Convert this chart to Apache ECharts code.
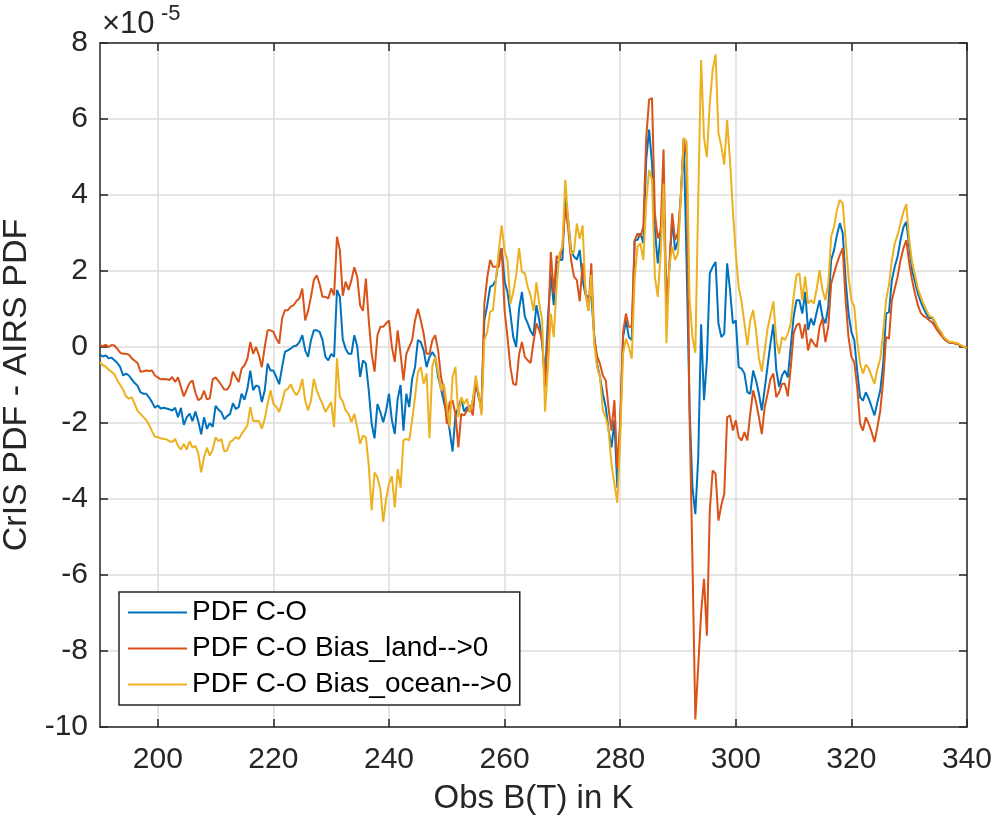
<!DOCTYPE html>
<html>
<head>
<meta charset="utf-8">
<script src="https://cdn.jsdelivr.net/npm/echarts@6/dist/echarts.min.js"></script>
<style>
html,body{margin:0;padding:0;background:#fff;}
#chart{width:995px;height:820px;}
</style>
</head>
<body>
<div id="chart"></div>
<script>
// Brightness temperature grid (K): 190 .. 340, step 0.5
const X_START = 190;
const X_STEP = 0.5;

// values in units of 1e-5
const pdfCO = [
-0.2,-0.25,-0.22,-0.3,-0.28,-0.35,-0.42,-0.53,-0.75,-0.7,
-0.75,-0.85,-0.95,-1.02,-1.19,-1.23,-1.23,-1.33,-1.45,-1.6,
-1.54,-1.62,-1.6,-1.62,-1.64,-1.67,-1.6,-1.85,-1.6,-2.05,
-1.85,-1.75,-1.95,-1.7,-1.95,-2.3,-1.85,-2.15,-2.0,-2.1,
-1.55,-1.65,-1.72,-1.9,-1.82,-1.76,-1.48,-1.63,-1.58,-1.23,
-1.39,-1.1,-0.62,-1.14,-1.01,-1.05,-1.45,-1.14,-0.44,-0.62,
-0.62,-0.79,-0.98,-0.53,-0.13,-0.09,-0.04,0.02,0.04,0.13,
0.31,-0.09,-0.26,0.18,0.44,0.44,0.40,0.18,-0.26,-0.35,
-0.18,-0.26,1.5,1.32,0.2,-0.05,-0.18,-0.18,0.31,0.02,
-0.79,-0.35,-0.44,-1.14,-2.02,-2.4,-1.5,-1.71,-1.98,-1.67,
-1.23,-1.93,-2.29,-1.36,-1.0,-2.2,-1.23,-1.58,-0.84,-0.53,
0.18,0.13,-0.09,-0.53,-0.26,-0.13,-0.26,-0.79,-1.1,-1.45,
-1.76,-2.2,-2.75,-1.8,-1.58,-1.36,-1.7,-1.58,-1.71,-1.41,
-0.97,-1.32,-1.58,0.7,1.1,1.58,1.63,1.76,2.4,2.6,
1.72,1.45,0.88,0.26,0.0,1.0,1.45,0.8,0.62,0.42,
0.3,1.1,0.7,0.09,-0.79,0.79,1.9,1.1,2.2,2.3,
2.29,4.0,3.34,2.55,2.38,2.3,2.55,1.76,1.37,1.32,
1.32,0.31,-0.44,-0.79,-1.23,-1.58,-2.2,-2.64,-1.93,-3.7,
-2.0,0.26,0.7,0.26,0.18,2.8,2.82,2.99,2.73,4.93,
5.72,4.84,3.08,2.2,2.99,4.0,0.88,2.11,3.34,2.55,
2.8,4.0,5.45,2.11,-1.6,-3.69,-4.4,-2.9,0.6,-1.4,
-0.35,1.94,2.11,2.24,0.62,0.26,0.35,2.2,1.5,0.62,
0.7,-0.53,-0.57,-0.7,-1.19,-1.23,-0.62,-0.88,-1.23,-1.67,
-1.1,-0.5,0.1,0.6,-0.6,-1.05,-0.75,-0.62,-0.8,0.0,
0.79,1.23,1.23,0.88,1.45,0.45,0.75,0.57,0.92,1.23,
0.79,0.62,1.06,2.29,2.55,2.95,3.26,2.99,1.76,0.88,
0.4,0.18,-0.62,-1.32,-1.41,-1.19,-1.36,-1.58,-1.8,-1.45,
-1.14,-0.44,0.88,0.92,1.76,2.11,2.38,2.82,3.15,3.3,
2.64,2.02,1.72,1.41,1.19,1.01,0.86,0.76,0.77,0.62,
0.46,0.35,0.22,0.16,0.11,0.11,0.09,0.07,0.03,0.0,
-0.02
];

const pdfCOLand = [
0.05,0.02,0.06,0.0,0.05,0.04,-0.05,-0.15,-0.18,-0.18,
-0.2,-0.3,-0.36,-0.42,-0.65,-0.64,-0.62,-0.63,-0.62,-0.75,
-0.8,-0.85,-0.84,-0.85,-0.87,-0.79,-0.92,-0.8,-1.05,-1.3,
-1.12,-0.95,-0.88,-1.2,-1.4,-1.35,-1.15,-1.38,-1.35,-0.85,
-0.8,-0.9,-1.0,-1.12,-1.12,-1.0,-0.65,-0.79,-0.92,-0.57,
-0.48,-0.31,0.13,-0.18,0.0,-0.22,-0.53,0.0,0.44,0.44,
0.40,0.22,0.09,0.75,0.97,0.97,1.06,1.1,1.21,1.28,
1.54,0.7,0.95,1.32,1.76,1.89,1.65,1.32,1.32,1.28,
1.54,1.36,2.9,2.55,1.35,1.72,1.5,1.76,2.1,1.85,
1.1,0.95,1.8,0.7,-0.18,-0.65,0.31,0.53,0.53,0.62,
0.7,0.0,-0.39,0.44,-0.18,-0.88,-0.18,0.0,0.18,0.7,
1.01,0.7,0.35,-0.18,-0.18,0.18,0.31,-0.09,-0.79,-1.14,
-2.02,-1.45,-1.41,-1.76,-2.64,-1.76,-1.8,-1.67,-1.54,-1.8,
-0.9,-1.23,-1.7,1.14,1.83,2.29,2.11,2.11,2.11,2.6,
0.95,0.26,-0.53,-0.97,-1.0,-0.2,0.13,-0.26,-0.35,-0.42,
0.13,0.62,0.44,0.18,-1.05,0.3,2.5,1.4,2.4,2.3,
2.64,3.7,3.1,2.29,1.85,1.76,1.2,2.2,1.5,0.95,
2.2,0.26,-0.24,-0.44,-0.75,-0.88,-1.63,-2.2,-1.4,-3.2,
-2.0,0.4,0.88,0.53,0.53,2.8,2.99,2.9,3.17,5.5,
6.51,6.55,3.52,2.86,3.08,5.2,0.88,2.11,3.52,2.82,
3.0,4.0,5.5,5.0,-1.8,-5.63,-9.8,-8.4,-7.0,-6.1,
-7.6,-4.3,-3.25,-3.34,-4.57,-4.16,-3.87,-1.85,-1.8,-2.2,
-1.93,-2.37,-2.46,-2.24,-2.46,-1.76,-1.14,-1.45,-1.85,-2.29,
-1.58,-1.23,-0.84,-0.7,-1.32,-1.19,-0.97,-0.97,-1.3,-0.55,
0.35,0.57,0.62,0.22,0.6,-0.09,0.22,0.09,0.0,0.53,
0.75,0.13,0.53,1.67,1.94,2.2,2.42,2.6,1.23,0.26,
-0.26,-0.4,-1.06,-2.02,-2.2,-1.85,-2.02,-2.24,-2.5,-2.11,
-1.67,-0.88,0.26,0.22,1.23,1.54,1.85,2.29,2.6,2.81,
2.2,1.76,1.41,1.1,0.9,0.81,0.77,0.7,0.64,0.53,
0.41,0.31,0.22,0.16,0.11,0.11,0.09,0.07,0.03,0.0,
-0.02
];

const pdfCOOcean = [
-0.4,-0.48,-0.52,-0.6,-0.65,-0.72,-0.88,-1.0,-1.12,-1.3,
-1.36,-1.32,-1.5,-1.68,-1.76,-1.84,-1.92,-2.05,-2.22,-2.36,
-2.37,-2.4,-2.42,-2.43,-2.48,-2.5,-2.42,-2.6,-2.7,-2.55,
-2.7,-2.48,-2.65,-2.6,-2.8,-3.3,-2.9,-2.65,-2.86,-2.7,
-2.38,-2.48,-2.42,-2.75,-2.72,-2.5,-2.45,-2.37,-2.42,-2.29,
-2.18,-2.07,-1.58,-1.95,-1.95,-1.95,-2.15,-1.89,-1.5,-1.14,
-1.5,-1.57,-1.71,-1.45,-1.14,-1.1,-0.98,-1.16,-1.27,-1.14,
-0.84,-1.41,-1.67,-1.41,-0.84,-1.14,-1.34,-1.5,-1.71,-1.58,
-1.45,-2.11,-0.3,-1.32,-1.43,-1.67,-1.76,-1.98,-1.76,-2.11,
-2.55,-2.33,-2.38,-3.12,-4.3,-3.3,-3.43,-3.74,-4.6,-4.0,
-3.6,-3.4,-4.22,-3.21,-3.7,-2.46,-2.42,-2.46,-1.93,-1.32,
-0.66,-0.53,-0.97,-0.7,-2.4,-0.5,-0.26,-0.66,-1.14,-0.97,
-1.54,-2.11,-0.79,-0.53,-1.85,-1.32,-1.5,-1.36,-1.71,-1.41,
-0.75,-1.23,-1.8,0.18,0.4,0.93,0.97,1.76,2.55,3.2,
2.51,2.29,1.14,1.45,1.89,2.6,1.98,1.94,1.58,1.36,
0.95,1.7,1.14,0.7,-1.7,-0.53,0.88,0.26,1.6,2.46,
2.64,4.4,3.34,2.46,2.5,3.25,2.85,3.2,1.41,0.95,
1.9,0.09,-0.53,-0.79,-1.67,-1.85,-2.2,-3.1,-3.6,-4.1,
-2.4,-0.18,0.22,0.0,-0.31,1.8,2.64,2.73,2.29,3.8,
4.66,4.4,1.85,1.32,2.46,4.3,0.1,2.11,2.64,2.29,
2.46,4.0,5.5,5.4,1.3,0.26,-0.15,3.9,7.55,5.5,
5.0,6.42,7.3,7.7,5.63,5.28,4.8,5.98,4.9,3.56,
2.46,1.58,1.19,0.62,0.04,0.7,0.97,0.44,-0.3,-0.65,
-0.09,0.48,0.84,1.2,0.2,-0.18,0.26,0.18,0.35,0.62,
1.32,1.89,1.94,1.23,1.85,1.15,1.23,1.14,1.54,2.02,
1.5,1.23,1.67,2.9,3.17,3.61,3.87,3.78,2.82,1.85,
1.23,1.06,0.18,-0.44,-0.7,-0.46,-0.57,-0.77,-0.97,-0.57,
-0.31,0.4,1.23,1.63,2.29,2.73,2.95,3.26,3.55,3.76,
2.81,2.24,1.89,1.54,1.32,1.13,0.97,0.81,0.79,0.66,
0.5,0.4,0.26,0.19,0.13,0.13,0.11,0.09,0.04,0.0,
-0.02
];

const xTickValues = [200, 220, 240, 260, 280, 300, 320, 340];
const seriesNames = ['PDF C-O', 'PDF C-O Bias_land-->0', 'PDF C-O Bias_ocean-->0'];
const seriesColors = ['#0072BD', '#D95319', '#EDB120'];

function toPairs(arr) {
  return arr.map((v, i) => [X_START + X_STEP * i, v]);
}

const FONT = '"Liberation Sans", Arial, Helvetica, sans-serif';
const AX = '#262626';
const GRID = '#dddddd';

const chart = echarts.init(document.getElementById('chart'));
const axLine = { show: true, onZero: false, lineStyle: { color: AX, width: 1.5 } };
const inTick = { show: true, inside: true, length: 8, lineStyle: { color: AX, width: 1.5 } };

chart.setOption({
  animation: false,
  backgroundColor: '#ffffff',
  grid: { left: 100, right: 28, top: 43, bottom: 93, containLabel: false, outerBoundsMode: 'none' },
  xAxis: [{
    type: 'value', min: 190, max: 340, interval: 20,
    axisLine: axLine,
    axisTick: Object.assign({ customValues: xTickValues }, inTick),
    axisLabel: { show: true, customValues: xTickValues, color: AX, fontSize: 30, fontFamily: FONT, margin: 18 },
    splitLine: { show: true, lineStyle: { color: GRID, width: 1.5 } },
    name: 'Obs B(T) in K', nameLocation: 'middle', nameGap: 55,
    nameTextStyle: { color: AX, fontSize: 33, fontFamily: FONT }
  }, {
    type: 'value', min: 190, max: 340, interval: 20, position: 'top',
    axisLine: axLine,
    axisTick: Object.assign({ customValues: xTickValues }, inTick),
    axisLabel: { show: false },
    splitLine: { show: false }
  }],
  yAxis: [{
    type: 'value', min: -10, max: 8, interval: 2,
    axisLine: axLine,
    axisTick: inTick,
    axisLabel: { color: AX, fontSize: 30, fontFamily: FONT, margin: 12 },
    splitLine: { show: true, lineStyle: { color: GRID, width: 1.5 } },
    name: 'CrIS PDF - AIRS PDF', nameLocation: 'middle', nameGap: 62, nameRotate: 90,
    nameTextStyle: { color: AX, fontSize: 34, fontFamily: FONT }
  }, {
    type: 'value', min: -10, max: 8, interval: 2, position: 'right',
    axisLine: axLine,
    axisTick: inTick,
    axisLabel: { show: false },
    splitLine: { show: false }
  }],
  legend: {
    show: true, orient: 'vertical', left: 119, top: 592,
    data: seriesNames,
    backgroundColor: '#ffffff', borderColor: AX, borderWidth: 1.5, borderRadius: 0,
    padding: [6, 8, 6, 9], itemGap: 7, itemWidth: 59, itemHeight: 2, icon: 'rect',
    textStyle: { color: '#000000', fontSize: 28, fontFamily: FONT, lineHeight: 29 }
  },
  graphic: [
    { type: 'text', left: 102, top: 9, style: { text: '×10', fontSize: 31, fontFamily: FONT, fill: AX } },
    { type: 'text', left: 161, top: 3, style: { text: '-5', fontSize: 22, fontFamily: FONT, fill: AX } }
  ],
  series: [pdfCO, pdfCOLand, pdfCOOcean].map((arr, k) => ({
    name: seriesNames[k], type: 'line', data: toPairs(arr),
    showSymbol: false, symbol: 'none',
    lineStyle: { color: seriesColors[k], width: 2 },
    itemStyle: { color: seriesColors[k] },
    z: 2 + k
  }))
});
</script>
</body>
</html>
